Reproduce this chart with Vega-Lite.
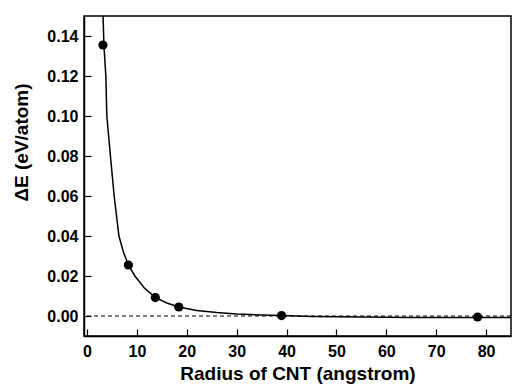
{
  "$schema": "https://vega.github.io/schema/vega-lite/v6.json",
  "width": 427,
  "height": 320,
  "autosize": {"type": "none"},
  "padding": {"left": 84, "top": 16, "right": 1, "bottom": 48},
  "background": "white",
  "config": {
    "view": {"stroke": "black", "strokeWidth": 1.5},
    "axis": {
      "grid": false,
      "labelOverlap": false,
      "domainColor": "black",
      "domainWidth": 1.5,
      "tickColor": "black",
      "tickWidth": 1.2,
      "labelFont": "Liberation Sans",
      "labelFontWeight": "bold",
      "labelFontSize": 16,
      "labelColor": "black",
      "titleFont": "Liberation Sans",
      "titleFontWeight": "bold",
      "titleFontSize": 19,
      "titleColor": "black"
    }
  },
  "datasets": {
    "curve": [
      {"r": 3.15, "dE": 0.156},
      {"r": 3.4, "dE": 0.135},
      {"r": 3.78, "dE": 0.12},
      {"r": 3.98, "dE": 0.1},
      {"r": 4.7, "dE": 0.08},
      {"r": 5.45, "dE": 0.06},
      {"r": 6.4, "dE": 0.04},
      {"r": 7.3, "dE": 0.032},
      {"r": 8.3, "dE": 0.0255},
      {"r": 9.6, "dE": 0.02},
      {"r": 11.5, "dE": 0.014},
      {"r": 13.7, "dE": 0.0093},
      {"r": 16, "dE": 0.0065},
      {"r": 18.4, "dE": 0.0045},
      {"r": 22, "dE": 0.0028},
      {"r": 26, "dE": 0.0017},
      {"r": 30, "dE": 0.001},
      {"r": 35, "dE": 0.0005},
      {"r": 39, "dE": 0.0002},
      {"r": 45, "dE": -0.0002},
      {"r": 55, "dE": -0.0005},
      {"r": 65, "dE": -0.0007},
      {"r": 70, "dE": -0.0008},
      {"r": 78, "dE": -0.0008},
      {"r": 85, "dE": -0.0008}
    ],
    "points": [
      {"r": 3.2, "dE": 0.1355},
      {"r": 8.3, "dE": 0.0255},
      {"r": 13.7, "dE": 0.0092},
      {"r": 18.4, "dE": 0.0045},
      {"r": 39.0, "dE": 0.0002},
      {"r": 78.3, "dE": -0.0005}
    ],
    "zeroline": [{"level": 0}]
  },
  "layer": [
    {
      "data": {"name": "curve"},
      "mark": {"type": "line", "color": "black", "strokeWidth": 1.5, "clip": true},
      "encoding": {
        "x": {
          "field": "r",
          "type": "quantitative",
          "scale": {"domain": [-0.6, 85], "nice": false, "zero": false},
          "axis": {
            "title": "Radius of CNT (angstrom)",
            "values": [0, 5, 10, 15, 20, 25, 30, 35, 40, 45, 50, 55, 60, 65, 70, 75, 80],
            "labelExpr": "datum.value % 10 == 0 ? datum.label : ''",
            "tickSize": {"condition": {"test": "datum.value % 10 == 0", "value": -7}, "value": -4},
            "labelPadding": 14,
            "titlePadding": 5
          }
        },
        "y": {
          "field": "dE",
          "type": "quantitative",
          "scale": {"domain": [-0.01, 0.15], "nice": false, "zero": false},
          "axis": {
            "title": "ΔE (eV/atom)",
            "values": [0, 0.01, 0.02, 0.03, 0.04, 0.05, 0.06, 0.07, 0.08, 0.09, 0.1, 0.11, 0.12, 0.13, 0.14],
            "format": ".2f",
            "labelExpr": "round(datum.value * 100) % 2 == 0 ? datum.label : ''",
            "tickSize": {"condition": {"test": "round(datum.value * 100) % 2 == 0", "value": -7}, "value": -4},
            "labelPadding": 13,
            "titleX": -63,
            "titleY": 126,
            "titleBaseline": "middle",
            "titleAlign": "center"
          }
        }
      }
    },
    {
      "data": {"name": "zeroline"},
      "mark": {"type": "rule", "color": "black", "strokeDash": [4, 3], "strokeWidth": 1},
      "encoding": {"y": {"field": "level", "type": "quantitative"}}
    },
    {
      "data": {"name": "points"},
      "mark": {"type": "circle", "color": "black", "opacity": 1, "size": 85},
      "encoding": {
        "x": {"field": "r", "type": "quantitative"},
        "y": {"field": "dE", "type": "quantitative"}
      }
    }
  ]
}
